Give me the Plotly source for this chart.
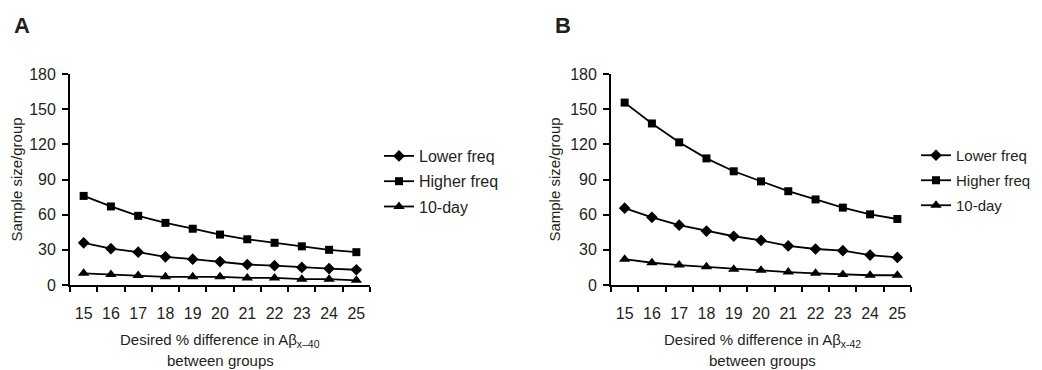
import plotly.graph_objects as go

categories = ["15", "16", "17", "18", "19", "20", "21", "22", "23", "24", "25"]

a_lower = [36, 31, 28, 24, 22, 20, 17.5, 16.5, 15, 14, 13]
a_higher = [76, 67, 59, 53, 48, 43, 39, 36, 33, 30, 28]
a_tenday = [10, 9, 8, 7, 7, 7, 6, 6, 5, 5, 4]

b_lower = [65.5, 57.7, 51, 46, 41.6, 38, 33.3, 30.7, 29.3, 25.5, 23.5]
b_higher = [155.6, 137.8, 121.7, 108, 97, 88.4, 80, 73, 66, 60.3, 56.3]
b_tenday = [22, 19, 17, 15.5, 13.5, 12.6, 11, 10, 9, 8.3, 8.3]

series_names = ["Lower freq", "Higher freq", "10-day"]
symbols = ["diamond", "square", "triangle-up"]
sizes = [9, 8, 10]

FONT = "Liberation Sans, Arial, sans-serif"
TXT = "#231f20"

# page body has an 8px margin; the figure is laid out in page pixels minus that offset
OFF = 8
W, H = 1042, 370 - OFF


def px(x):
    return (x - OFF) / W


def py(y):
    return 1 - (y - OFF) / H


fig = go.Figure()

for panel, data, xa, ya, lg in [
    ("A", [a_lower, a_higher, a_tenday], "x", "y", "legend"),
    ("B", [b_lower, b_higher, b_tenday], "x2", "y2", "legend2"),
]:
    for name, vals, sym, sz in zip(series_names, data, symbols, sizes):
        fig.add_trace(go.Scatter(
            x=categories, y=vals, name=name, mode="lines+markers",
            line=dict(color="black", width=1.8),
            marker=dict(symbol=sym, size=sz, color="black"),
            xaxis=xa, yaxis=ya, legend=lg, legendgroup=panel + name, cliponaxis=False,
        ))

ydom = [py(285), py(74)]
xcommon = dict(type="category", tickson="boundaries", ticks="outside", ticklen=5,
               tickwidth=1.8, tickcolor="black", showline=True, linecolor="black",
               linewidth=1.8, showgrid=False, zeroline=False, tickangle=0,
               ticklabelstandoff=13,
               tickfont=dict(family=FONT, size=16, color=TXT),
               range=[-0.5, 10.5])
ycommon = dict(range=[0, 180], tickvals=[0, 30, 60, 90, 120, 150, 180], ticks="outside",
               ticklen=6, tickwidth=1.8, tickcolor="black", showline=True,
               linecolor="black", linewidth=1.8, showgrid=False, zeroline=False,
               ticklabelstandoff=3,
               tickfont=dict(family=FONT, size=16, color=TXT),
               title=dict(text="Sample size/group", font=dict(family=FONT, size=15, color=TXT),
                          standoff=6),
               domain=ydom)

legcommon = dict(xanchor="left", yanchor="top", itemwidth=30, bgcolor="rgba(0,0,0,0)")

fig.update_layout(
    width=W, height=H, margin=dict(l=0, r=0, t=0, b=0, autoexpand=False),
    paper_bgcolor="white", plot_bgcolor="white",
    xaxis=dict(domain=[px(70), px(370)], anchor="y", **xcommon),
    xaxis2=dict(domain=[px(611), px(911)], anchor="y2", **xcommon),
    yaxis=dict(anchor="x", **ycommon),
    yaxis2=dict(anchor="x2", **ycommon),
    legend=dict(x=px(379), y=py(139), tracegroupgap=1.5,
                font=dict(family=FONT, size=16, color=TXT), **legcommon),
    legend2=dict(x=px(916), y=py(139), tracegroupgap=2.5,
                 font=dict(family=FONT, size=15, color=TXT), **legcommon),
)

for x, t in [(12, "A"), (553, "B")]:
    fig.add_annotation(xref="paper", yref="paper", x=px(x), y=py(25), text="<b>" + t + "</b>",
                       showarrow=False, xanchor="left", yanchor="middle",
                       font=dict(family=FONT, size=22, color=TXT))

for cx, sub in [(220, "x–40"), (762, "x-42")]:
    fig.add_annotation(xref="paper", yref="paper", x=px(cx), y=py(340),
                       text="Desired % difference in Aβ<sub>" + sub + "</sub>",
                       showarrow=False, xanchor="center", yanchor="middle",
                       font=dict(family=FONT, size=15, color=TXT))
    fig.add_annotation(xref="paper", yref="paper", x=px(cx), y=py(360),
                       text="between groups", showarrow=False, xanchor="center",
                       yanchor="middle", font=dict(family=FONT, size=15, color=TXT))

fig.write_html("out.html")
